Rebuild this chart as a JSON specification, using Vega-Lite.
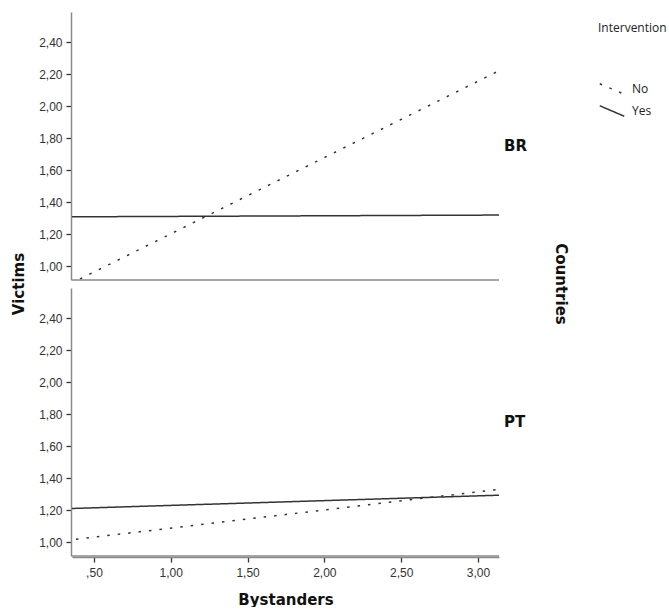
{
  "$schema": "https://vega.github.io/schema/vega-lite/v6.json",
  "padding": {"left": 11, "top": 12, "right": 0, "bottom": 0},
  "background": "white",
  "title": {
    "text": "Victims",
    "orient": "left",
    "anchor": "middle",
    "frame": "group",
    "font": "DejaVu Sans",
    "fontSize": 15,
    "fontWeight": "bold",
    "color": "#111111",
    "offset": 12,
    "dx": -272
  },
  "config": {
    "view": {"stroke": null},
    "font": "Liberation Sans",
    "axis": {
      "grid": false,
      "domainColor": "#8a8a8a",
      "domainWidth": 1.5,
      "tickColor": "#333333",
      "tickWidth": 1.3,
      "tickSize": 5,
      "labelFont": "Liberation Sans",
      "labelFontSize": 12,
      "labelColor": "#333333",
      "labelOverlap": false,
      "titleFont": "DejaVu Sans",
      "titleFontSize": 15,
      "titleFontWeight": "bold",
      "titleColor": "#111111"
    },
    "header": {
      "labelFont": "DejaVu Sans",
      "labelFontSize": 15,
      "labelFontWeight": "bold",
      "labelColor": "#111111",
      "titleFont": "DejaVu Sans",
      "titleFontSize": 15,
      "titleFontWeight": "bold",
      "titleColor": "#111111"
    }
  },
  "data": {
    "values": [
      {"Country": "BR", "Intervention": "No", "Bystanders": 0.409, "Victims": 0.919},
      {"Country": "BR", "Intervention": "No", "Bystanders": 3.12, "Victims": 2.214},
      {"Country": "BR", "Intervention": "Yes", "Bystanders": 0.357, "Victims": 1.308},
      {"Country": "BR", "Intervention": "Yes", "Bystanders": 3.137, "Victims": 1.319},
      {"Country": "PT", "Intervention": "No", "Bystanders": 0.383, "Victims": 1.017},
      {"Country": "PT", "Intervention": "No", "Bystanders": 3.137, "Victims": 1.33},
      {"Country": "PT", "Intervention": "Yes", "Bystanders": 0.357, "Victims": 1.21},
      {"Country": "PT", "Intervention": "Yes", "Bystanders": 3.137, "Victims": 1.293}
    ]
  },
  "facet": {
    "row": {
      "field": "Country",
      "type": "nominal",
      "sort": ["BR", "PT"],
      "title": "Countries",
      "header": {
        "labelOrient": "right",
        "labelAngle": 0,
        "labelPadding": 4,
        "titleOrient": "right",
        "titleAngle": 90,
        "titlePadding": 16
      }
    }
  },
  "spacing": {"row": 7},
  "spec": {
    "width": 427,
    "height": 268,
    "layer": [
      {
        "mark": {"type": "line", "color": "#333333", "strokeWidth": 1.5, "clip": true},
        "encoding": {
          "x": {
            "field": "Bystanders",
            "type": "quantitative",
            "title": "Bystanders",
            "scale": {"domain": [0.357, 3.137], "nice": false, "zero": false},
            "axis": {
              "values": [0.5, 1.0, 1.5, 2.0, 2.5, 3.0],
              "tickCount": 12,
              "labelExpr": "datum.value < 1 ? substring(replace(format(datum.value, '.2f'), '.', ','), 1) : replace(format(datum.value, '.2f'), '.', ',')",
              "labelPadding": 5,
              "titlePadding": 14
            }
          },
          "y": {
            "field": "Victims",
            "type": "quantitative",
            "title": null,
            "scale": {"domain": [0.9125, 2.59], "nice": false, "zero": false},
            "axis": {
              "values": [1.0, 1.2, 1.4, 1.6, 1.8, 2.0, 2.2, 2.4],
              "tickCount": 12,
              "labelOverlap": false,
              "labelExpr": "replace(format(datum.value, '.2f'), '.', ',')",
              "labelPadding": 4
            }
          },
          "strokeDash": {
            "field": "Intervention",
            "type": "nominal",
            "scale": {"domain": ["No", "Yes"], "range": [[2.5, 8], [1, 0]]},
            "legend": {
              "title": "Intervention",
              "orient": "none",
              "legendX": 526,
              "legendY": 11,
              "titleFont": "Open Sans",
              "titleFontSize": 12,
              "titleFontWeight": "normal",
              "titleColor": "#222222",
              "titlePadding": 46,
              "labelFont": "Open Sans",
              "labelFontSize": 12,
              "labelColor": "#222222",
              "labelOffset": 12,
              "symbolOffset": 6,
              "symbolType": "M -1.75 -0.75 L 1.75 0.75",
              "symbolSize": 196,
              "symbolStrokeColor": "#333333",
              "symbolStrokeWidth": 1.5,
              "symbolFillColor": "transparent",
              "rowPadding": 4
            }
          }
        }
      },
      {
        "transform": [{"filter": "datum.Intervention == 'Yes' && datum.Bystanders < 1"}],
        "mark": {"type": "rule", "color": "#8a8a8a", "strokeWidth": 1.5},
        "encoding": {
          "y": {"datum": 0.9125, "type": "quantitative"}
        }
      }
    ]
  }
}
